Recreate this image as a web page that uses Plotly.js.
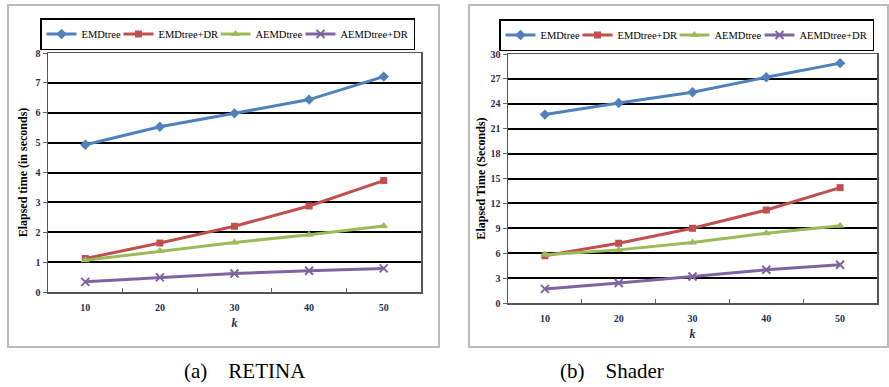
<!DOCTYPE html>
<html>
<head>
<meta charset="utf-8">
<script src="https://cdn.plot.ly/plotly-3.0.1.min.js"></script>
<style>html,body{margin:0;padding:0;background:#fff;}#chart{width:889px;height:387px;}</style>
</head>
<body>
<div id="chart"></div>
<script>
// ---- data ----
const kValues = ['10', '20', '30', '40', '50'];
const seriesNames = ['EMDtree', 'EMDtree+DR', 'AEMDtree', 'AEMDtree+DR'];

// (a) RETINA
const retinaEMDtree     = [4.93, 5.53, 5.98, 6.44, 7.21];
const retinaEMDtreeDR   = [1.12, 1.64, 2.20, 2.88, 3.73];
const retinaAEMDtree    = [1.06, 1.37, 1.66, 1.92, 2.21];
const retinaAEMDtreeDR  = [0.34, 0.49, 0.62, 0.71, 0.79];

// (b) Shader
const shaderEMDtree     = [22.7, 24.1, 25.4, 27.2, 28.9];
const shaderEMDtreeDR   = [5.7, 7.2, 9.0, 11.2, 13.9];
const shaderAEMDtree    = [5.8, 6.4, 7.3, 8.4, 9.3];
const shaderAEMDtreeDR  = [1.7, 2.4, 3.2, 4.0, 4.6];

const captions = ['(a)&nbsp;&nbsp;&nbsp;&nbsp;RETINA', '(b)&nbsp;&nbsp;&nbsp;&nbsp;Shader'];
const yTitles = ['Elapsed time (in seconds)', 'Elapsed Time (Seconds)'];

// ---- styles ----
const colors = ['#4F81BD', '#C0504D', '#9BBB59', '#8064A2'];
const symbols = ['diamond', 'square', 'triangle-up', 'x-thin'];
const msizes = [8, 7, 8, 8];
const legendWidths = [32, 52, 40, 68];
const W = 889, H = 387;
const serif = "'Liberation Serif', 'Times New Roman', serif";
const tickColor = '#1F2F4F';

function mk(y, i, xa, ya, leg) {
  return {
    x: kValues, y: y, name: seriesNames[i], type: 'scatter', mode: 'lines+markers',
    xaxis: xa, yaxis: ya, legend: leg, legendwidth: legendWidths[i],
    line: {color: colors[i], width: 3},
    marker: {symbol: symbols[i], size: msizes[i], color: colors[i],
             line: {color: colors[i], width: i === 3 ? 2 : 0}}
  };
}

const leftSeries = [retinaEMDtree, retinaEMDtreeDR, retinaAEMDtree, retinaAEMDtreeDR];
const rightSeries = [shaderEMDtree, shaderEMDtreeDR, shaderAEMDtree, shaderAEMDtreeDR];
const traces = [];
leftSeries.forEach((s, i) => traces.push(mk(s, i, 'x', 'y', 'legend')));
rightSeries.forEach((s, i) => traces.push(mk(s, i, 'x2', 'y2', 'legend2')));

function px(x) { return x / W; }
function py(y) { return 1 - y / H; }

function xaxis(domain) {
  return {
    domain: domain, type: 'category', range: [-0.5, 4.5],
    tickson: 'boundaries', ticks: 'inside', ticklen: 4, tickcolor: '#666',
    ticklabelstandoff: 5,
    showgrid: false, showline: true, linecolor: '#555', linewidth: 1.5, mirror: true,
    tickfont: {family: serif, size: 10, color: tickColor, weight: 'bold'},
    title: {text: '<b><i>k</i></b>', font: {family: serif, size: 12, color: tickColor}, standoff: 7},
    fixedrange: true
  };
}
function yaxis(domain, range, dtick, title, anchor, standoff) {
  return {
    domain: domain, range: range, dtick: dtick, anchor: anchor,
    ticks: 'outside', ticklen: 4, tickcolor: '#666',
    showgrid: true, gridcolor: '#000', gridwidth: 2, zeroline: false,
    showline: true, linecolor: '#555', linewidth: 1.5, mirror: true,
    tickfont: {family: serif, size: 10, color: tickColor, weight: 'bold'},
    title: {text: '<b>' + title + '</b>', font: {family: serif, size: 12, color: '#000'}, standoff: standoff},
    fixedrange: true
  };
}

const legendBase = {
  orientation: 'h', xanchor: 'left', yanchor: 'top',
  bgcolor: '#fff', bordercolor: '#000', borderwidth: 1.5,
  font: {family: serif, size: 10.5, color: '#000'},
  itemwidth: 30, tracegroupgap: 0
};

const layout = {
  width: W, height: H,
  margin: {l: 0, r: 0, t: 0, b: 0},
  paper_bgcolor: '#fff', plot_bgcolor: '#fff',
  showlegend: true,
  xaxis: Object.assign(xaxis([px(48), px(421)]), {anchor: 'y'}),
  yaxis: yaxis([py(292), py(53)], [0, 8], 1, yTitles[0], 'x', 5),
  xaxis2: Object.assign(xaxis([px(508), px(877)]), {anchor: 'y2'}),
  yaxis2: yaxis([py(303), py(54)], [0, 30], 3, yTitles[1], 'x2', 2),
  legend: Object.assign({}, legendBase, {x: px(40), y: py(18)}),
  legend2: Object.assign({}, legendBase, {x: px(499), y: py(19)}),
  shapes: [
    {type: 'rect', xref: 'paper', yref: 'paper', x0: px(8), x1: px(439), y0: py(347), y1: py(5),
     line: {color: '#BBBBBB', width: 2}},
    {type: 'rect', xref: 'paper', yref: 'paper', x0: px(469), x1: px(888), y0: py(347), y1: py(5),
     line: {color: '#BBBBBB', width: 2}}
  ],
  annotations: [
    {text: captions[0], xref: 'paper', yref: 'paper', x: px(245), y: py(371), showarrow: false,
     xanchor: 'center', yanchor: 'middle', font: {family: serif, size: 21, color: '#000'}},
    {text: captions[1], xref: 'paper', yref: 'paper', x: px(612), y: py(371), showarrow: false,
     xanchor: 'center', yanchor: 'middle', font: {family: serif, size: 21, color: '#000'}}
  ]
};

Plotly.newPlot('chart', traces, layout, {displayModeBar: false, staticPlot: true});
</script>
</body>
</html>
